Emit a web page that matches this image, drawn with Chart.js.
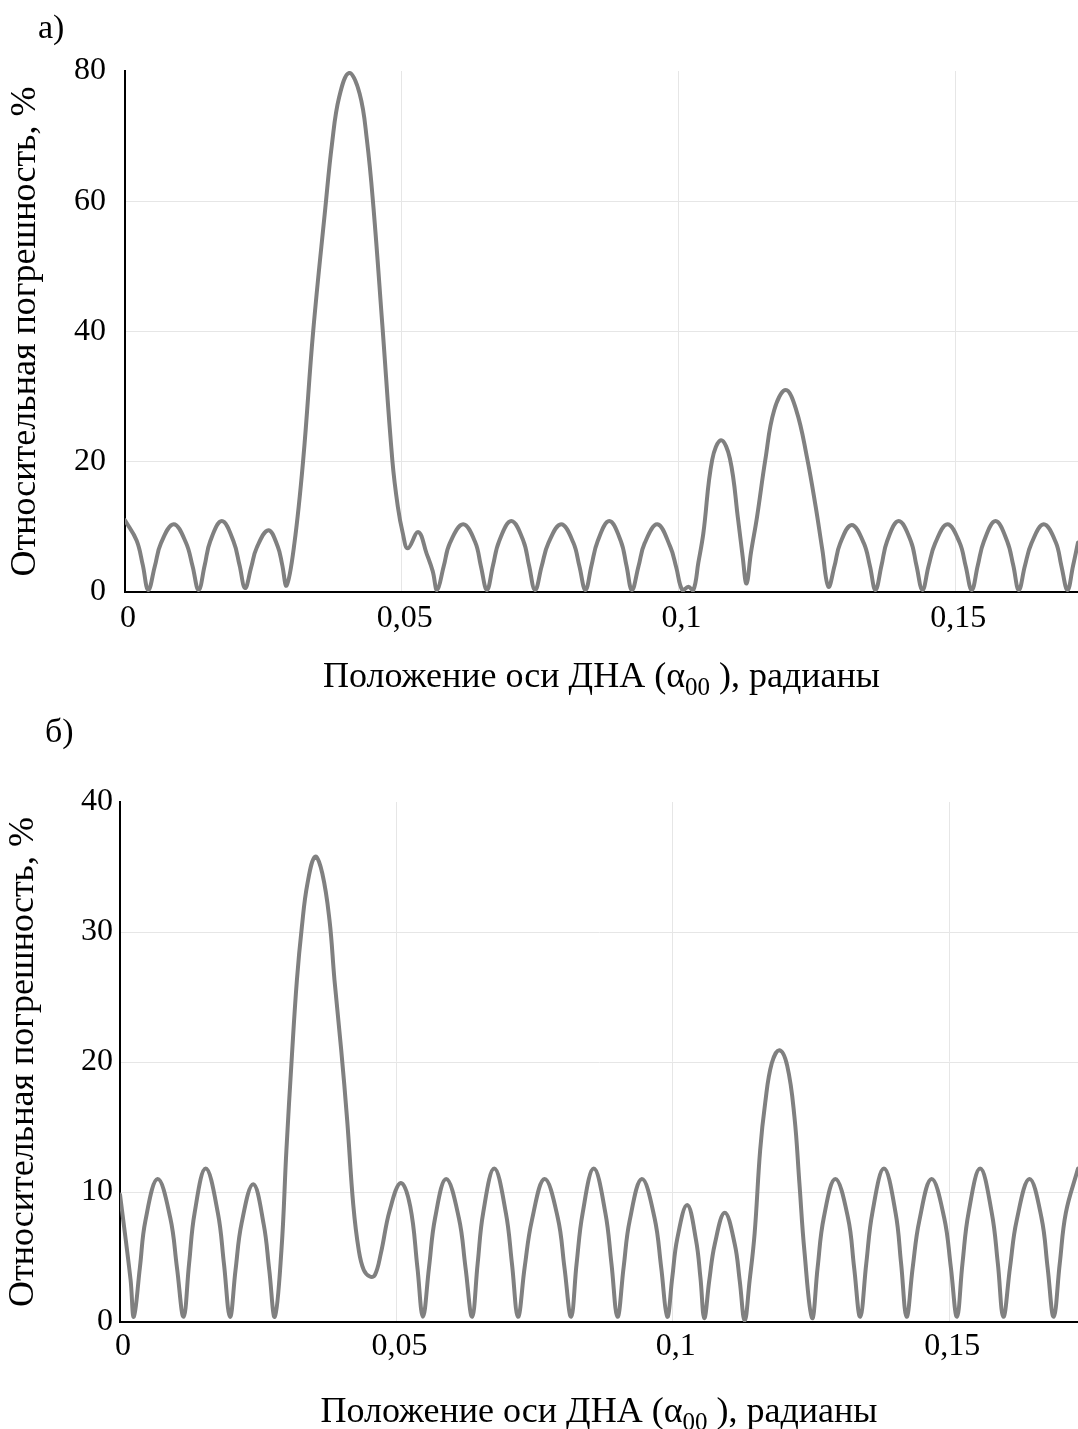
<!DOCTYPE html>
<html>
<head>
<meta charset="utf-8">
<script src="https://cdn.jsdelivr.net/npm/chart.js@4.4.1/dist/chart.umd.min.js"></script>
<style>
  html, body { margin: 0; padding: 0; background: #fff; }
  #wrap { position: relative; width: 1078px; height: 1429px; }
  canvas { position: absolute; left: 0; }
  #chartA { top: 0; }
  #chartB { top: 700px; }
</style>
</head>
<body>
<div id="wrap">
  <canvas id="chartA" width="1078" height="710"></canvas>
  <canvas id="chartB" width="1078" height="729"></canvas>
</div>
<script>
const serif = "'Liberation Serif', 'Times New Roman', serif";

/* а) положение оси, рад / погрешность, % */
const alphaA = [
  0, 0.0021, 0.0032, 0.0042,
  0.0054, 0.0065, 0.0088, 0.0110, 0.0122, 0.0133,
  0.0144, 0.0154, 0.0175, 0.0196, 0.0207, 0.0217,
  0.0228, 0.0238, 0.0259, 0.0276, 0.0284, 0.0292,
  0.0306, 0.0322, 0.0340, 0.0362, 0.0374, 0.0387, 0.0405, 0.0424, 0.0437, 0.0449, 0.0465, 0.0483, 0.0493, 0.0502, 0.0511,
  0.0530, 0.0545, 0.0556, 0.0564,
  0.0576, 0.0587, 0.0611, 0.0633, 0.0643, 0.0654,
  0.0665, 0.0676, 0.0698, 0.0720, 0.0730, 0.0741,
  0.0753, 0.0765, 0.0788, 0.0810, 0.0821, 0.0832,
  0.0843, 0.0854, 0.0875, 0.0896, 0.0906, 0.0916,
  0.0928, 0.0939, 0.0962, 0.0985, 0.0996, 0.1007, 0.1018, 0.1027,
  0.1036, 0.1045, 0.1061, 0.1077, 0.1093, 0.1108, 0.1116, 0.1123,
  0.1131, 0.1142, 0.1157, 0.1173, 0.1194, 0.1213, 0.1232, 0.1248, 0.1260, 0.1271,
  0.1282, 0.1292, 0.1313, 0.1335, 0.1346, 0.1356,
  0.1367, 0.1377, 0.1398, 0.1420, 0.1430, 0.1441,
  0.1452, 0.1464, 0.1486, 0.1508, 0.1519, 0.1530,
  0.1541, 0.1552, 0.1573, 0.1594, 0.1605, 0.1615,
  0.1626, 0.1638, 0.1660, 0.1682, 0.1692, 0.1703,
  0.1713, 0.1722
];
const errA = [
  11.0, 7.9, 4.2, 0.3,
  4.0, 7.5, 10.4, 7.6, 4.0, 0.3,
  4.1, 7.8, 10.9, 7.8, 4.1, 0.6,
  3.8, 6.8, 9.5, 7.0, 4.2, 1.0,
  7.4, 20.3, 40, 59, 68.8, 76, 79.7, 76.5, 69.5, 59, 41, 20.3, 13.1, 9.0, 6.7,
  9.2, 5.9, 3.2, 0.3,
  4.0, 7.5, 10.4, 7.6, 4.0, 0.3,
  4.1, 7.8, 10.9, 7.8, 4.1, 0.3,
  4.0, 7.5, 10.4, 7.6, 4.0, 0.3,
  4.1, 7.8, 10.9, 7.8, 4.1, 0.3,
  4.0, 7.5, 10.4, 7.0, 3.8, 0.3, 0.8, 0.3,
  4.5, 9.0, 20.3, 23.3, 20.5, 11.0, 5.5, 1.3,
  6.0, 11.5, 20.3, 27.9, 31.0, 27.9, 20.8, 13.1, 6.5, 0.8,
  4.0, 7.4, 10.3, 7.5, 4.0, 0.3,
  4.1, 7.8, 10.9, 7.8, 4.1, 0.3,
  4.0, 7.5, 10.4, 7.6, 4.0, 0.3,
  4.1, 7.8, 10.9, 7.8, 4.1, 0.3,
  4.0, 7.5, 10.4, 7.6, 4.0, 0.3,
  4.0, 7.6
];

/* б) */
const alphaB = [
  0, 0.0019, 0.0025,
  0.0036, 0.0046, 0.0068, 0.0091, 0.0103, 0.0115,
  0.0125, 0.0135, 0.0155, 0.0177, 0.0188, 0.0199,
  0.0209, 0.0220, 0.0241, 0.0260, 0.0270, 0.0280,
  0.0292, 0.0301, 0.0311, 0.0320, 0.0329, 0.0339, 0.0353, 0.0366, 0.0379, 0.0388, 0.0400, 0.0411, 0.0422, 0.0432, 0.0441, 0.0452, 0.0461, 0.0472, 0.0488,
  0.0508, 0.0525, 0.0538, 0.0548,
  0.0559, 0.0570, 0.0590, 0.0613, 0.0625, 0.0637,
  0.0647, 0.0657, 0.0677, 0.0698, 0.0709, 0.0720,
  0.0732, 0.0745, 0.0768, 0.0792, 0.0804, 0.0816,
  0.0826, 0.0837, 0.0857, 0.0878, 0.0889, 0.0900,
  0.0911, 0.0922, 0.0944, 0.0967, 0.0979, 0.0990,
  0.0999, 0.1008, 0.1026, 0.1042, 0.1050, 0.1057,
  0.1066, 0.1076, 0.1094, 0.1112, 0.1121, 0.1130,
  0.1139, 0.1148, 0.1158, 0.1167, 0.1179, 0.1193, 0.1207, 0.1220, 0.1229, 0.1238, 0.1252,
  0.1262, 0.1273, 0.1294, 0.1317, 0.1328, 0.1339,
  0.1350, 0.1361, 0.1382, 0.1403, 0.1413, 0.1423,
  0.1434, 0.1446, 0.1468, 0.1491, 0.1503, 0.1514,
  0.1524, 0.1535, 0.1556, 0.1577, 0.1588, 0.1598,
  0.1610, 0.1622, 0.1645, 0.1667, 0.1678, 0.1689,
  0.1700, 0.1711, 0.1733
];
const errB = [
  9.8, 3.3, 0.4,
  4.2, 7.8, 11.0, 8.0, 4.2, 0.4,
  4.5, 8.4, 11.8, 8.4, 4.5, 0.4,
  4.0, 7.6, 10.6, 7.5, 4.0, 0.4,
  5.5, 13.2, 20.5, 26.3, 30.4, 33.7, 35.8, 34.5, 30.9, 26.3, 21.0, 15.5, 9.0, 5.5, 4.0, 3.5, 3.6, 5.3, 8.6,
  10.7, 8.9, 4.2, 0.4,
  4.2, 8.0, 11.0, 8.0, 4.2, 0.4,
  4.5, 8.4, 11.8, 8.4, 4.5, 0.4,
  4.2, 7.8, 11.0, 8.0, 4.2, 0.4,
  4.5, 8.4, 11.8, 8.4, 4.5, 0.4,
  4.2, 7.8, 11.0, 8.0, 4.2, 0.4,
  3.4, 6.4, 9.0, 6.3, 3.4, 0.3,
  3.2, 6.0, 8.4, 6.0, 3.2, 0.1,
  3.2, 6.8, 13.2, 16.8, 19.9, 20.9, 19.7, 15.8, 10.7, 5.5, 0.3,
  4.2, 8.0, 11.0, 8.0, 4.2, 0.4,
  4.5, 8.4, 11.8, 8.4, 4.5, 0.4,
  4.2, 7.8, 11.0, 8.0, 4.2, 0.4,
  4.5, 8.4, 11.8, 8.4, 4.5, 0.4,
  4.2, 7.8, 11.0, 8.0, 4.2, 0.4,
  4.5, 8.4, 11.8
];

const xTickValues = [0, 0.05, 0.1, 0.15];
const xTickLabels = ['0', '0,05', '0,1', '0,15'];
const yTicksA = [0, 20, 40, 60, 80];
const yTicksB = [0, 10, 20, 30, 40];

const yTitle = 'Относительная погрешность, %';
const xTitleParts = ['Положение оси ДНА (', 'α', '00', ' ), радианы'];

/* подпись панели и заголовок оси X с нижним индексом */
const decorations = {
  id: 'decorations',
  afterDraw(chart, args, o) {
    const ctx = chart.ctx;
    const area = chart.chartArea;
    ctx.save();
    ctx.fillStyle = '#000';
    ctx.textBaseline = 'alphabetic';
    ctx.textAlign = 'left';

    ctx.font = '34px ' + serif;
    ctx.fillText(o.panel, o.panelX, o.panelY);

    const parts = [
      { text: xTitleParts[0], size: 36, dy: 0 },
      { text: xTitleParts[1], size: 36, dy: 0 },
      { text: xTitleParts[2], size: 25, dy: 8 },
      { text: xTitleParts[3], size: 36, dy: 0 }
    ];
    let total = 0;
    parts.forEach(p => {
      ctx.font = p.size + 'px ' + serif;
      p.w = ctx.measureText(p.text).width;
      total += p.w;
    });
    let x = (area.left + area.right) / 2 - total / 2;
    parts.forEach(p => {
      ctx.font = p.size + 'px ' + serif;
      ctx.fillText(p.text, x, o.titleY + p.dy);
      x += p.w;
    });
    ctx.restore();
  }
};

function makeChart(id, cfg) {
  const points = cfg.xs.map((x, i) => ({ x: x, y: cfg.ys[i] }));
  const yMax = cfg.yTicks[cfg.yTicks.length - 1];
  const canvas = document.getElementById(id);

  return new Chart(canvas, {
    type: 'line',
    data: {
      datasets: [{
        data: points,
        borderColor: '#808080',
        borderWidth: 4,
        pointRadius: 0,
        tension: 0.4,
        borderJoinStyle: 'round',
        borderCapStyle: 'round',
        fill: false
      }]
    },
    options: {
      responsive: false,
      animation: false,
      layout: { padding: { top: cfg.plotTop, left: 0, right: 0, bottom: 0 } },
      plugins: {
        legend: { display: false },
        tooltip: { enabled: false },
        decorations: cfg.deco
      },
      scales: {
        x: {
          type: 'linear',
          min: 0,
          max: cfg.xMax,
          afterBuildTicks: s => { s.ticks = xTickValues.map(v => ({ value: v })); },
          afterFit: s => { s.height = canvas.height - cfg.plotBottom; },
          grid: {
            color: c => (c.tick && c.tick.value === 0) ? 'rgba(0,0,0,0)' : '#e6e6e6',
            lineWidth: 1,
            drawTicks: false
          },
          border: { display: true, color: '#000', width: 2 },
          ticks: {
            padding: cfg.xTickPad,
            labelOffset: 3,
            color: '#000',
            font: { family: serif, size: 32 },
            maxRotation: 0,
            callback: (v, i) => xTickLabels[i]
          }
        },
        y: {
          type: 'linear',
          min: 0,
          max: yMax,
          afterBuildTicks: s => { s.ticks = cfg.yTicks.map(v => ({ value: v })); },
          afterFit: s => { s.width = cfg.plotLeft; },
          grid: {
            color: c => (c.tick && (c.tick.value === yMax || c.tick.value === 0)) ? 'rgba(0,0,0,0)' : '#e6e6e6',
            lineWidth: 1,
            drawTicks: false
          },
          border: { display: true, color: '#000', width: 2 },
          ticks: {
            padding: cfg.yTickPad,
            color: '#000',
            font: { family: serif, size: 32 }
          },
          title: {
            display: true,
            text: yTitle,
            color: '#000',
            font: { family: serif, size: 36 },
            padding: { top: cfg.yTitlePad, bottom: 0 }
          }
        }
      }
    },
    plugins: [decorations]
  });
}

makeChart('chartA', {
  xs: alphaA, ys: errA, yTicks: yTicksA, xMax: 0.1722,
  plotTop: 71, plotBottom: 592, plotLeft: 125,
  xTickPad: 7, yTickPad: 19, yTitlePad: 4,
  deco: { panel: 'а)', panelX: 38, panelY: 38, titleY: 687 }
});

makeChart('chartB', {
  xs: alphaB, ys: errB, yTicks: yTicksB, xMax: 0.1733,
  plotTop: 102, plotBottom: 622, plotLeft: 120,
  xTickPad: 5, yTickPad: 7, yTitlePad: 2,
  deco: { panel: 'б)', panelX: 45, panelY: 42, titleY: 722 }
});
</script>
</body>
</html>
